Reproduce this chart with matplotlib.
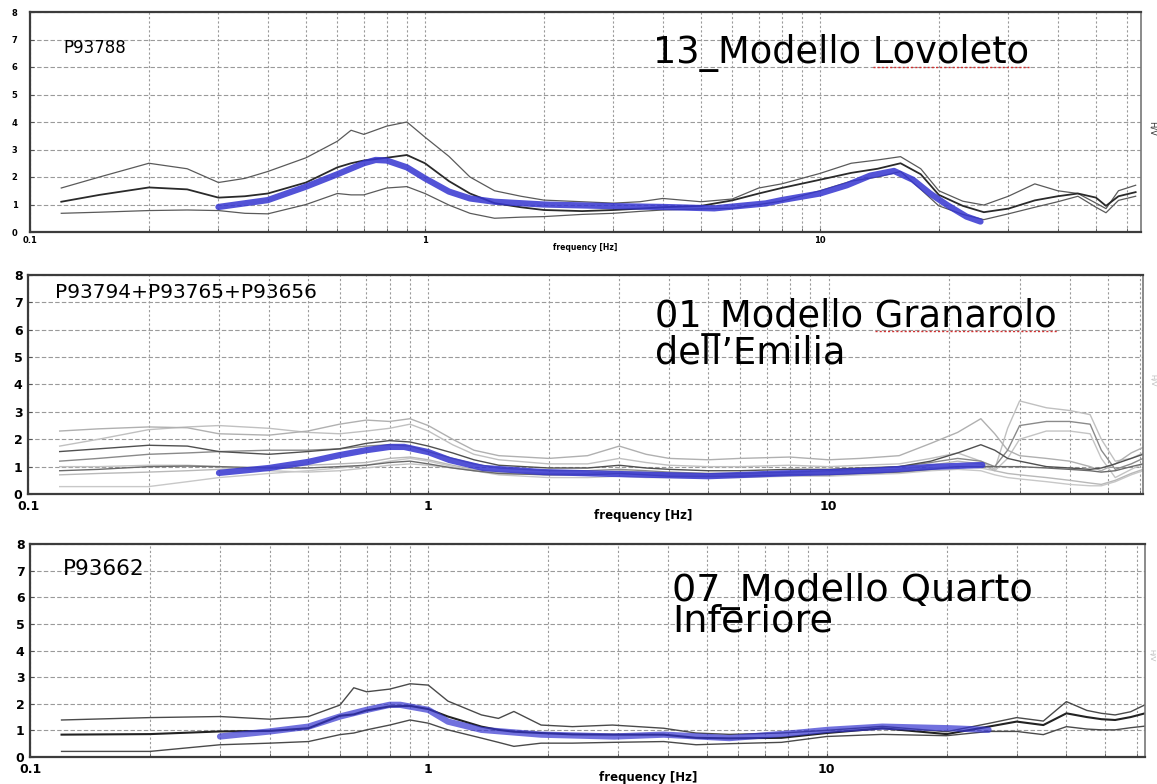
import matplotlib
matplotlib.use('Agg')
import matplotlib.pyplot as plt
import numpy as np
from matplotlib.ticker import LogLocator, NullFormatter
from matplotlib.lines import Line2D

# ---------------- data ----------------
# Panel 1 : 13_Modello Lovoleto (P93788)
f1 = [0.12, 0.15, 0.2, 0.25, 0.3, 0.35, 0.4, 0.5, 0.6, 0.65, 0.7, 0.8, 0.9, 1.0, 1.15, 1.3, 1.5, 1.75,
      2, 2.5, 3, 3.5, 4, 5, 6, 7, 8, 10, 12, 14, 16, 18, 20, 23, 26, 30, 35, 40, 45, 50, 53, 57, 63]
p1_mean = [1.1, 1.35, 1.62, 1.55, 1.25, 1.3, 1.4, 1.8, 2.35, 2.5, 2.6, 2.7, 2.8, 2.5, 1.85, 1.4, 1.05, 0.9,
           0.8, 0.76, 0.8, 0.85, 0.9, 0.95, 1.15, 1.4, 1.6, 1.9, 2.15, 2.3, 2.5, 2.1, 1.35, 0.95, 0.72,
           0.85, 1.15, 1.3, 1.4, 1.25, 0.95, 1.3, 1.45]
p1_upper = [1.6, 2.0, 2.5, 2.3, 1.8, 1.95, 2.2, 2.7, 3.3, 3.7, 3.55, 3.85, 4.0, 3.45, 2.75, 2.0, 1.5, 1.3,
            1.16, 1.1, 1.05, 1.1, 1.22, 1.1, 1.2, 1.6, 1.75, 2.13, 2.5, 2.62, 2.74, 2.3, 1.5, 1.12, 0.98,
            1.3, 1.75, 1.5, 1.4, 1.05, 0.85, 1.5, 1.7]
p1_lower = [0.68, 0.72, 0.78, 0.8, 0.78, 0.68, 0.66, 1.0, 1.4, 1.35, 1.35, 1.6, 1.65, 1.4, 0.98, 0.68, 0.5,
            0.54, 0.56, 0.64, 0.68, 0.75, 0.8, 0.84, 0.86, 1.0, 1.12, 1.5, 1.85, 2.0, 2.2, 1.55, 0.95, 0.64,
            0.45, 0.66, 0.9, 1.1, 1.3, 0.9, 0.7, 1.15, 1.3]
m1_f = [0.3, 0.4, 0.5, 0.6, 0.7, 0.75, 0.8, 0.9, 1.0, 1.15, 1.3, 1.5, 2, 3, 4, 5.4, 7.3, 8, 10, 11.7,
        13.4, 15.4, 17.2, 19, 21, 23.5, 25.5]
m1_v = [0.91, 1.16, 1.65, 2.1, 2.5, 2.62, 2.6, 2.35, 1.95, 1.47, 1.22, 1.1, 1.0, 0.94, 0.91, 0.86, 1.04,
        1.16, 1.4, 1.7, 2.05, 2.22, 1.9, 1.4, 0.98, 0.56, 0.38]

# Panel 2 : 01_Modello Granarolo dell'Emilia (P93794+P93765+P93656)
f2 = [0.12, 0.15, 0.2, 0.25, 0.3, 0.4, 0.5, 0.6, 0.7, 0.8, 0.9, 1.0, 1.15, 1.3, 1.5, 2, 2.5, 3, 3.5, 4,
      5, 6, 8, 10, 12, 15, 18, 21, 24, 26, 28, 30, 35, 40, 45, 48, 52, 57, 61]
p2_c1 = [2.3, 2.38, 2.45, 2.42, 2.2, 2.15, 2.3, 2.55, 2.7, 2.65, 2.75, 2.5, 2.0, 1.6, 1.4, 1.3, 1.4, 1.75,
         1.45, 1.3, 1.25, 1.3, 1.35, 1.25, 1.3, 1.4, 1.85, 2.25, 2.75, 2.2, 1.6, 1.4, 1.3, 1.2, 1.0, 0.85,
         1.1, 1.5, 1.7]
p2_c2 = [1.55, 1.65, 1.78, 1.75, 1.55, 1.45, 1.55, 1.65, 1.85, 1.95, 1.9, 1.75, 1.5, 1.25, 1.05, 0.95,
         0.95, 1.05, 0.95, 0.9, 0.85, 0.85, 0.9, 0.9, 0.95, 1.0, 1.2, 1.5, 1.8, 1.6, 1.3, 1.2, 1.0, 0.95,
         0.9, 0.95, 1.1, 1.3, 1.45]
p2_c3 = [1.75, 2.0, 2.35, 2.45, 2.5, 2.4, 2.25, 2.2, 2.3, 2.4, 2.55, 2.3, 1.8, 1.45, 1.25, 1.1, 1.1, 1.3,
         1.15, 1.05, 1.0, 1.0, 1.05, 1.0, 1.05, 1.1, 1.3, 1.5, 1.2, 0.9, 2.4, 3.4, 3.15, 3.05, 2.9, 2.0,
         1.2, 1.3, 1.5]
p2_c4 = [1.2, 1.3, 1.45, 1.5, 1.55, 1.6, 1.6, 1.65, 1.75, 1.8, 1.75, 1.55, 1.3, 1.1, 0.95, 0.85, 0.85,
         0.9, 0.85, 0.8, 0.75, 0.75, 0.8, 0.85, 0.9, 1.0, 1.15, 1.3, 1.2, 1.0, 1.6, 2.5, 2.65, 2.65, 2.55,
         1.6, 0.9, 1.1, 1.3]
p2_c5 = [1.0, 1.0, 1.05, 1.05, 1.0, 0.85, 0.8, 0.85, 0.95, 1.05, 1.1, 1.05, 0.95, 0.85, 0.75, 0.7, 0.75,
         0.8, 0.75, 0.7, 0.7, 0.7, 0.75, 0.75, 0.8, 0.85, 0.95, 1.0, 0.95, 0.85, 1.3, 2.0, 2.3, 2.3, 2.2,
         1.3, 0.6, 0.9, 1.1]
p2_c6 = [0.85, 0.9, 1.0, 1.02, 1.0, 0.95, 0.95, 1.0, 1.05, 1.15, 1.2, 1.1, 0.95, 0.85, 0.75, 0.7, 0.7,
         0.75, 0.7, 0.65, 0.65, 0.65, 0.7, 0.7, 0.75, 0.8, 0.9, 1.0, 1.0, 1.0, 1.0, 1.0, 0.95, 0.9, 0.85,
         0.8, 0.85, 1.0, 1.1]
p2_c7 = [0.7, 0.75, 0.8, 0.85, 0.9, 1.0, 1.05, 1.1, 1.15, 1.3, 1.35, 1.25, 1.05, 0.9, 0.8, 0.75, 0.75,
         0.85, 0.8, 0.75, 0.75, 0.75, 0.8, 0.8, 0.85, 0.9, 1.05, 1.2, 1.1, 0.85, 0.75, 0.7, 0.6, 0.5, 0.4,
         0.35, 0.5, 0.75, 0.9]
p2_c8 = [0.27, 0.27, 0.27, 0.45, 0.6, 0.75, 0.85, 0.95, 1.05, 1.2, 1.3, 1.2, 1.0, 0.85, 0.7, 0.6, 0.6,
         0.65, 0.6, 0.6, 0.6, 0.6, 0.65, 0.65, 0.7, 0.75, 0.85, 0.9, 0.85, 0.7, 0.6, 0.55, 0.45, 0.35, 0.3,
         0.3, 0.45, 0.7, 0.85]
p2_curves = [p2_c1, p2_c2, p2_c3, p2_c4, p2_c5, p2_c6, p2_c7, p2_c8]
p2_colors = ['#b0b0b0', '#505050', '#c0c0c0', '#8a8a8a', '#c4c4c4', '#6a6a6a', '#b8b8b8', '#c8c8c8']
m2_f = [0.3, 0.4, 0.5, 0.6, 0.7, 0.8, 0.87, 1.0, 1.13, 1.37, 1.94, 2.96, 5.0, 7.6, 10.1, 13.5, 18, 24.2]
m2_v = [0.77, 0.95, 1.17, 1.42, 1.6, 1.72, 1.72, 1.53, 1.24, 0.95, 0.8, 0.73, 0.65, 0.75, 0.8, 0.87,
        0.99, 1.06]

# Panel 3 : 07_Modello Quarto Inferiore (P93662)
f3 = [0.12, 0.2, 0.3, 0.4, 0.5, 0.6, 0.65, 0.7, 0.8, 0.9, 1.0, 1.12, 1.36, 1.5, 1.64, 1.92, 2.3, 2.9,
      3.9, 4.7, 5.7, 7.7, 10, 13.8, 20, 25.5, 30, 35, 40, 45, 49, 53, 58, 63]
p3_mean = [0.84, 0.86, 0.96, 0.98, 1.08, 1.55, 1.6, 1.75, 1.9, 1.92, 1.8, 1.52, 1.14, 1.02, 0.95, 0.9,
           0.85, 0.84, 0.84, 0.72, 0.7, 0.72, 0.9, 1.08, 0.86, 1.14, 1.33, 1.2, 1.64, 1.5, 1.42, 1.39,
           1.5, 1.64]
p3_upper = [1.39, 1.48, 1.52, 1.42, 1.52, 1.95, 2.6, 2.45, 2.55, 2.75, 2.7, 2.1, 1.58, 1.45, 1.71, 1.2,
            1.14, 1.2, 1.08, 0.9, 0.85, 0.9, 1.0, 1.15, 0.95, 1.26, 1.48, 1.35, 2.08, 1.75, 1.64, 1.58,
            1.7, 1.96]
p3_lower = [0.21, 0.21, 0.46, 0.52, 0.58, 0.84, 0.9, 1.02, 1.2, 1.39, 1.27, 1.02, 0.71, 0.55, 0.4, 0.52,
            0.52, 0.55, 0.58, 0.46, 0.5, 0.55, 0.77, 0.85, 0.8, 0.96, 0.96, 0.84, 1.14, 1.05, 1.02, 1.02,
            1.1, 1.16]
m3_f = [0.3, 0.4, 0.5, 0.6, 0.7, 0.8, 0.85, 1.0, 1.12, 1.36, 1.92, 2.93, 3.9, 5.7, 8.3, 10.1, 13.8,
        20.3, 25.5]
m3_v = [0.77, 0.96, 1.14, 1.52, 1.77, 1.96, 1.96, 1.77, 1.33, 1.02, 0.84, 0.77, 0.84, 0.71, 0.9, 1.02,
        1.14, 1.08, 1.02]

x_ticks = [0.1, 1, 10]
x_tick_labels = ['0.1', '1', '10']
y_ticks = [0, 1, 2, 3, 4, 5, 6, 7, 8]
y_tick_labels = ['0', '1', '2', '3', '4', '5', '6', '7', '8']

# ---------------- figure ----------------
W, H = 1157, 784
fig = plt.figure(figsize=(W / 100, H / 100), dpi=100)
fig.patch.set_facecolor('white')
FONT = 'DejaVu Sans'
BLUE = '#3535d0'


def add_ax(l, t, r, b):
    return fig.add_axes([l / W, 1 - b / H, (r - l) / W, (b - t) / H])


def style(ax, xmax, tick_fs, ypad, xpad, lab_fs, lab_x, lab_y):
    ax.set_xscale('log')
    ax.set_xlim(0.1, xmax)
    ax.set_ylim(0, 8)
    ax.set_xticks(x_ticks, labels=x_tick_labels)
    ax.xaxis.set_minor_locator(LogLocator(base=10, subs=np.arange(2, 10), numticks=20))
    ax.xaxis.set_minor_formatter(NullFormatter())
    ax.set_yticks(y_ticks, labels=y_tick_labels)
    for lab in ax.get_xticklabels() + ax.get_yticklabels():
        lab.set_fontweight('bold')
        lab.set_fontsize(tick_fs)
        lab.set_family(FONT)
    ax.tick_params(axis='y', which='both', direction='in', length=3, pad=ypad, color='#555555')
    ax.tick_params(axis='x', which='both', direction='in', length=3, pad=xpad, color='#555555')
    ax.grid(True, axis='x', which='both', color='#9a9a9a', linestyle=(0, (2, 2)), linewidth=0.8)
    ax.grid(True, axis='y', which='major', color='#9a9a9a', linestyle=(0, (4, 2)), linewidth=0.8)
    for s in ['left', 'bottom', 'top']:
        ax.spines[s].set_color('#3c3c3c')
        ax.spines[s].set_linewidth(1.6)
    ax.spines['right'].set_color('#777777')
    ax.spines['right'].set_linewidth(1.2)
    ax.set_xlabel('frequency [Hz]', fontsize=lab_fs, fontweight='bold', family=FONT)
    ax.xaxis.set_label_coords(lab_x, lab_y)
    ax.set_axisbelow(True)


# Panel 1
ax1 = add_ax(30, 12, 1141, 232)
style(ax1, 65, 6, 9, 3, 5.5, 0.5, -0.05)
ax1.plot(f1, p1_upper, color='#5a5a5a', lw=0.9)
ax1.plot(f1, p1_lower, color='#5a5a5a', lw=0.9)
ax1.plot(f1, p1_mean, color='#2a2a2a', lw=1.3)
ax1.plot(m1_f, m1_v, color=BLUE, lw=4.5, alpha=0.85, solid_capstyle='round', solid_joinstyle='round')
ax1.text(63 / W, 1 - 53 / H, 'P93788', transform=fig.transFigure, fontsize=12, family=FONT,
         va='baseline', ha='left')
TFS1 = 26.5
t1 = ax1.text(653 / W, 1 - 63 / H, '13_Modello Lovoleto', transform=fig.transFigure, fontsize=TFS1,
              family=FONT, va='baseline', ha='left')
ax1.text(1.006, 0.47, 'H/V', transform=ax1.transAxes, rotation=270, fontsize=6, family=FONT,
         va='center', ha='left', color='#333333')

# Panel 2
ax2 = add_ax(28, 275, 1143, 494)
style(ax2, 61, 9, 4, 4.5, 8.5, 0.552, -0.07)
order = [2, 4, 7, 0, 6, 3, 5, 1]
for i in order:
    ax2.plot(f2, p2_curves[i], color=p2_colors[i], lw=1.0)
ax2.plot(m2_f, m2_v, color=BLUE, lw=4.5, alpha=0.85, solid_capstyle='round', solid_joinstyle='round')
ax2.text(55 / W, 1 - 298 / H, 'P93794+P93765+P93656', transform=fig.transFigure, fontsize=14.5,
         family=FONT, va='baseline', ha='left')
TFS2 = 26.5
# multi-line text with va='baseline' is anchored on the baseline of its last line
t2 = ax2.text(655 / W, 1 - 363 / H, '01_Modello Granarolo\ndell\u2019Emilia', transform=fig.transFigure,
              fontsize=TFS2, family=FONT, va='baseline', ha='left', linespacing=0.93)
ax2.text(1.008, 0.52, 'H/V', transform=ax2.transAxes, rotation=270, fontsize=5, family=FONT,
         va='center', ha='center', color='#bbbbbb')

# Panel 3
ax3 = add_ax(30, 544, 1145, 757)
style(ax3, 63, 9, 4, 4.5, 8.5, 0.554, -0.065)
ax3.plot(f3, p3_upper, color='#4a4a4a', lw=1.0)
ax3.plot(f3, p3_lower, color='#4a4a4a', lw=1.0)
ax3.plot(f3, p3_mean, color='#222222', lw=1.5)
ax3.plot(m3_f, m3_v, color=BLUE, lw=4.5, alpha=0.7, solid_capstyle='round', solid_joinstyle='round')
ax3.text(63 / W, 1 - 575 / H, 'P93662', transform=fig.transFigure, fontsize=15.5, family=FONT,
         va='baseline', ha='left')
t3 = ax3.text(672 / W, 1 - 632 / H, '07_Modello Quarto\nInferiore', transform=fig.transFigure,
              fontsize=27.5, family=FONT, va='baseline', ha='left', linespacing=0.78)
ax3.text(1.0055, 0.48, 'H/V', transform=ax3.transAxes, rotation=270, fontsize=5, family=FONT,
         va='center', ha='center', color='#bbbbbb')

# spell-check style underlines under the place names
fig.canvas.draw()
r = fig.canvas.get_renderer()


def underline(ax, text_obj, word, first_line_text, fs):
    bb = text_obj.get_window_extent(r)
    tmp = ax.text(0, 0, first_line_text, fontsize=fs, family=FONT, transform=None, va='baseline')
    tb = tmp.get_window_extent(r)
    tmp.remove()
    tmpw = ax.text(0, 0, word, fontsize=fs, family=FONT, transform=None)
    ww = tmpw.get_window_extent(r).width
    tmpw.remove()
    x1 = bb.x0 + tb.width
    x0 = x1 - ww
    yb = bb.y1 - tb.y1 - 4
    ln = Line2D([x0, x1], [yb, yb], transform=None, color='#d03030', lw=1.0,
                linestyle=(0, (1.5, 1.5)))
    fig.add_artist(ln)


underline(ax1, t1, 'Lovoleto', '13_Modello Lovoleto', TFS1)
underline(ax2, t2, 'Granarolo', '01_Modello Granarolo', TFS2)

fig.savefig('out.png', dpi=100, facecolor='white')
